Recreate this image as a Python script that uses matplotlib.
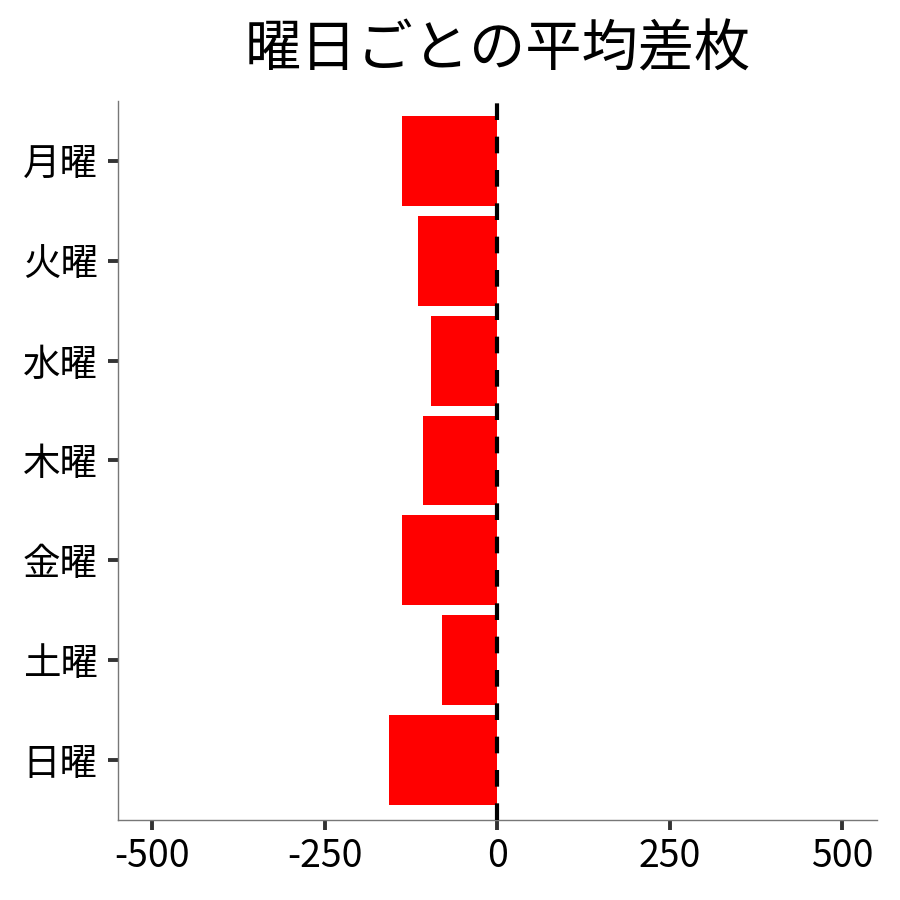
import matplotlib
matplotlib.use('Agg')
import matplotlib.pyplot as plt

plt.rcParams['font.family'] = ['Noto Sans CJK JP', 'DejaVu Sans']

# data
days = ['月曜', '火曜', '水曜', '木曜', '金曜', '土曜', '日曜']
avg_diff = [-138, -115, -96, -108, -138, -80, -157]
xticks = [-500, -250, 0, 250, 500]

fig = plt.figure(figsize=(9, 9), dpi=100)
ax = fig.add_axes([0.1311, 0.0889, 0.8433, 0.7989])

ypos = list(range(len(days), 0, -1))
ax.barh(ypos, avg_diff, height=0.9, color='#FF0000', zorder=2)
ax.axvline(0, color='black', lw=3.0, dashes=(4, 4), zorder=3)

ax.set_xlim(-550, 550)
ax.set_ylim(0.4, len(days) + 0.6)
ax.set_xticks(xticks)
ax.set_xticklabels([str(t) for t in xticks])
ax.set_yticks(ypos)
ax.set_yticklabels(days)

for s in ['top', 'right']:
    ax.spines[s].set_visible(False)
for s in ['left', 'bottom']:
    ax.spines[s].set_color('#777777')
    ax.spines[s].set_linewidth(1.0)

ax.tick_params(axis='both', length=7.5, width=2.8, color='#333333',
               labelsize=27, labelcolor='black')
ax.tick_params(axis='y', pad=7)
ax.tick_params(axis='x', pad=5)

ax.set_title('曜日ごとの平均差枚', fontsize=40.5, pad=25)

fig.savefig('out.png', dpi=100)
